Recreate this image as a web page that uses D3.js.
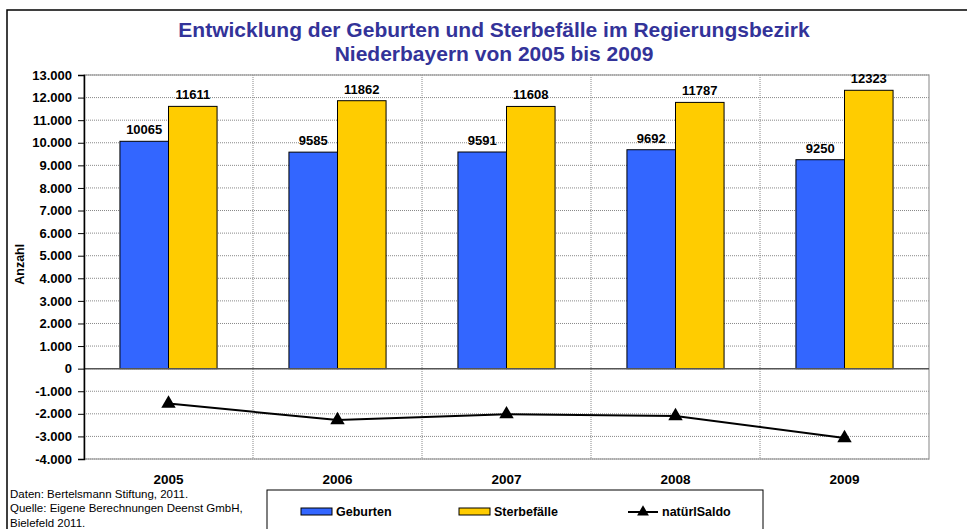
<!DOCTYPE html>
<html lang="de">
<head>
<meta charset="UTF-8">
<script src="https://d3js.org/d3.v7.min.js"></script>
<style>
  body { margin: 0; background: #fff; }
  svg text { font-family: Arial, "Liberation Sans", sans-serif; }
</style>
</head>
<body>
<div id="app"></div>
<script>
const years = ['2005', '2006', '2007', '2008', '2009']
const geburten = [10065, 9585, 9591, 9692, 9250]
const sterbefaelle = [11611, 11862, 11608, 11787, 12323]
const saldo = [-1546, -2277, -2017, -2095, -3073]
const y_ticks = [13000, 12000, 11000, 10000, 9000, 8000, 7000, 6000, 5000, 4000, 3000, 2000, 1000, 0, -1000, -2000, -3000, -4000]

const width = 967, height = 529
const plot = { left: 84, right: 929, top: 75, bottom: 459 }

const svg = d3.select('#app').append('svg')
  .attr('width', width).attr('height', height)

// outer frame
svg.append('path')
  .attr('d', `M7,${height + 2} V10 H${width + 2}`)
  .attr('fill', 'none').attr('stroke', '#000').attr('stroke-width', 1.5)

const x = d3.scaleBand().domain(years).range([plot.left, plot.right])
const x_inner = d3.scaleBand().domain(['g', 's'])
  .range([0, x.bandwidth()]).paddingOuter(0.74).paddingInner(0)
const y = d3.scaleLinear().domain([-4000, 13000]).range([plot.bottom, plot.top])

// horizontal grid
svg.append('g').selectAll('line').data(y_ticks).join('line')
  .attr('x1', plot.left).attr('x2', plot.right)
  .attr('y1', d => y(d)).attr('y2', d => y(d))
  .attr('stroke', '#888').attr('stroke-dasharray', '1,1').attr('stroke-width', 1)

// vertical category separators
svg.append('g').selectAll('line').data(years.slice(1)).join('line')
  .attr('x1', d => x(d)).attr('x2', d => x(d))
  .attr('y1', plot.top).attr('y2', plot.bottom)
  .attr('stroke', '#888').attr('stroke-dasharray', '1,1')

// plot border
svg.append('rect')
  .attr('x', plot.left).attr('y', plot.top)
  .attr('width', plot.right - plot.left).attr('height', plot.bottom - plot.top)
  .attr('fill', 'none').attr('stroke', '#999').attr('stroke-width', 1.2)

// bars
const groups = svg.append('g').selectAll('g').data(years).join('g')
  .attr('transform', d => `translate(${x(d)},0)`)

groups.append('rect')
  .attr('x', x_inner('g')).attr('width', x_inner.bandwidth())
  .attr('y', (d, i) => y(geburten[i]))
  .attr('height', (d, i) => y(0) - y(geburten[i]))
  .attr('fill', '#3366ff').attr('stroke', '#000').attr('stroke-width', 1)

groups.append('rect')
  .attr('x', x_inner('s')).attr('width', x_inner.bandwidth())
  .attr('y', (d, i) => y(sterbefaelle[i]))
  .attr('height', (d, i) => y(0) - y(sterbefaelle[i]))
  .attr('fill', '#ffcc00').attr('stroke', '#000').attr('stroke-width', 1)

groups.append('text')
  .attr('x', x_inner('g') + x_inner.bandwidth() / 2)
  .attr('y', (d, i) => y(geburten[i]) - 7)
  .attr('text-anchor', 'middle')
  .style('font-size', '13px').style('font-weight', 'bold')
  .text((d, i) => geburten[i])

groups.append('text')
  .attr('x', x_inner('s') + x_inner.bandwidth() / 2)
  .attr('y', (d, i) => y(sterbefaelle[i]) - 7)
  .attr('text-anchor', 'middle')
  .style('font-size', '13px').style('font-weight', 'bold')
  .text((d, i) => sterbefaelle[i])

// zero line
svg.append('line')
  .attr('x1', plot.left).attr('x2', plot.right)
  .attr('y1', y(0)).attr('y2', y(0))
  .attr('stroke', '#555').attr('stroke-width', 1.5)

// y axis
const fmt = d => d3.format(',')(d).replace(/,/g, '.').replace('−', '-')
const y_axis = svg.append('g')
  .attr('transform', `translate(${plot.left},0)`)
  .call(d3.axisLeft(y).tickValues(y_ticks).tickSize(6).tickPadding(6).tickFormat(fmt))
y_axis.select('.domain').attr('stroke', '#000').attr('stroke-width', 1.5)
y_axis.selectAll('.tick line').attr('stroke', '#000')
y_axis.selectAll('text')
  .style('font-size', '13px').style('font-weight', 'bold')
  .style('font-family', 'Arial, "Liberation Sans", sans-serif').attr('fill', '#000')

svg.append('text')
  .attr('transform', `translate(24,${y(4000) - 14}) rotate(-90)`)
  .attr('text-anchor', 'middle')
  .style('font-size', '12.5px').style('font-weight', 'bold')
  .text('Anzahl')

// x labels
svg.append('g').selectAll('text').data(years).join('text')
  .attr('x', d => x(d) + x.bandwidth() / 2)
  .attr('y', 484)
  .attr('text-anchor', 'middle')
  .style('font-size', '13.5px').style('font-weight', 'bold')
  .text(d => d)

// saldo line
const cx = d => x(d) + x.bandwidth() / 2
svg.append('path')
  .datum(years)
  .attr('d', d3.line().x(cx).y((d, i) => y(saldo[i])))
  .attr('fill', 'none').attr('stroke', '#000').attr('stroke-width', 2)

svg.append('g').selectAll('path').data(years).join('path')
  .attr('transform', (d, i) => `translate(${cx(d)},${y(saldo[i])})`)
  .attr('d', d3.symbol().type(d3.symbolTriangle).size(90))
  .attr('fill', '#000')

// title
svg.append('text')
  .attr('x', 494).attr('y', 37)
  .attr('text-anchor', 'middle')
  .style('font-size', '21px').style('font-weight', 'bold').attr('fill', '#333399')
  .text('Entwicklung der Geburten und Sterbefälle im Regierungsbezirk')
svg.append('text')
  .attr('x', 494).attr('y', 61)
  .attr('text-anchor', 'middle')
  .style('font-size', '21px').style('font-weight', 'bold').attr('fill', '#333399')
  .text('Niederbayern von 2005 bis 2009')

// source notes
const notes = ['Daten: Bertelsmann Stiftung, 2011.', 'Quelle: Eigene Berechnungen Deenst GmbH,', 'Bielefeld 2011.']
svg.append('g').selectAll('text').data(notes).join('text')
  .attr('x', 10).attr('y', (d, i) => 497.5 + i * 14.8)
  .style('font-size', '11.5px')
  .text(d => d)

// legend
svg.append('rect')
  .attr('x', 267).attr('y', 490).attr('width', 496).attr('height', 60)
  .attr('fill', '#fff').attr('stroke', '#000').attr('stroke-width', 1)

const leg_items = [
  { name: 'Geburten', color: '#3366ff', x: 301 },
  { name: 'Sterbefälle', color: '#ffcc00', x: 459 }
]
leg_items.forEach(it => {
  svg.append('rect').attr('x', it.x).attr('y', 508).attr('width', 31).attr('height', 7)
    .attr('fill', it.color).attr('stroke', '#000').attr('stroke-width', 1)
  svg.append('text').attr('x', it.x + 35).attr('y', 516)
    .style('font-size', '12.5px').style('font-weight', 'bold').text(it.name)
})
svg.append('line').attr('x1', 628).attr('x2', 658).attr('y1', 512).attr('y2', 512)
  .attr('stroke', '#000').attr('stroke-width', 2)
svg.append('path').attr('transform', 'translate(643,512)')
  .attr('d', d3.symbol().type(d3.symbolTriangle).size(60)).attr('fill', '#000')
svg.append('text').attr('x', 662).attr('y', 516)
  .style('font-size', '12.5px').style('font-weight', 'bold').text('natürlSaldo')
</script>
</body>
</html>
